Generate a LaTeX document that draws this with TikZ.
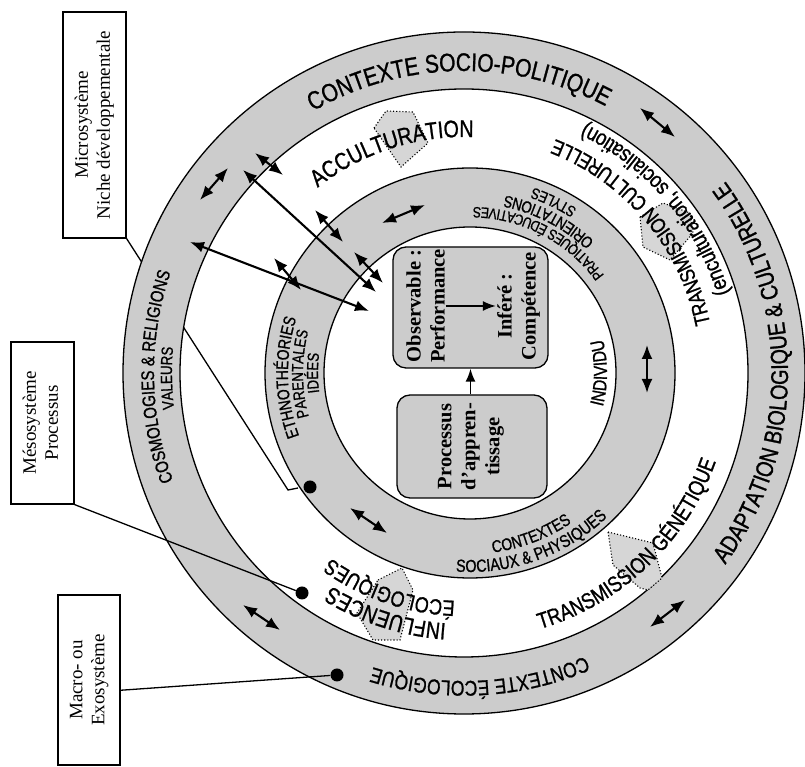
\documentclass[tikz,border=0pt]{standalone}
\usepackage{fontspec}
\setmainfont{Liberation Serif}
\newfontfamily\ringfont[FakeStretch=0.82,FakeBold=1]{Liberation Sans}
\usetikzlibrary{decorations.text,arrows.meta,calc}
\definecolor{ringgray}{gray}{0.80}
\definecolor{shapegray}{gray}{0.84}
\newcommand\ringtext[6]{%
  \pgfmathsetmacro\rtA{#3-(#4)*85}%
  \pgfmathsetmacro\rtB{#3+(#4)*85}%
  \path[decorate,decoration={text along path,text align=center,
     text={|\ringfont\fontsize{#5}{#5}\selectfont|#6}}]
     ($(#1)+(\rtA:#2)$) arc[start angle=\rtA,end angle=\rtB,radius=#2];}
\begin{document}
\begin{tikzpicture}[x=1pt,y=1pt,
  dbl/.style={{Latex[length=14pt,width=11pt]}-{Latex[length=14pt,width=11pt]},line width=2.1pt},
  sgl/.style={-{Latex[length=13pt,width=10pt]},line width=1.8pt},
  lbox/.style={draw,line width=1.2pt,fill=white,inner sep=0pt,font=\fontsize{19}{22}\selectfont},
  ibox/.style={draw,line width=1.3pt,fill=ringgray,rounded corners=13pt},
  btext/.style={rotate=90,align=center,font=\bfseries\fontsize{20.5}{24}\selectfont,inner sep=1pt},
  dot/.style={circle,fill=black,inner sep=0pt,minimum size=13pt},
  dshape/.style={draw,dotted,line width=1.1pt,fill=shapegray},
  edge/.style={line width=1.3pt}]
\useasboundingbox (0,0) rectangle (805,767);
\coordinate (C1) at (464,394);
\coordinate (C3) at (470,394);

% label boxes
\node[lbox,minimum width=63,minimum height=226] (micro) at (94.5,642)
  {\rotatebox{90}{\begin{tabular}{@{}c@{}}Microsystème\\Niche développementale\end{tabular}}};
\node[lbox,minimum width=63,minimum height=162] (meso) at (42.5,344)
  {\rotatebox{90}{\begin{tabular}{@{}c@{}}Mésosystème\\Processus\end{tabular}}};
\node[lbox,minimum width=62,minimum height=170] (macro) at (89,87)
  {\rotatebox{90}{\begin{tabular}{@{}c@{}}Macro- ou\\Exosystème\end{tabular}}};

% line from microsystem box, hidden under rings
\coordinate (mA1) at (288,277);
\coordinate (mA2) at (298,279);
\draw[edge] (micro.south east) -- (mA1) -- (mA2);

% rings
\fill[ringgray,even odd rule] (C1) circle[radius=341] (C1) circle[radius=284];
\draw[edge] (C1) circle[radius=341] (C1) circle[radius=284];
\fill[ringgray,even odd rule] (C3) circle[radius=205] (C3) circle[radius=146];
\draw[edge] (C3) circle[radius=205] (C3) circle[radius=146];

% dotted shapes
\draw[dshape] (374,639) -- (386,656) -- (413,655) -- (428,624) -- (401,600) -- cycle;
\draw[dshape] (640,550) -- (663,564) -- (690,554) -- (693,534) -- (670,507) -- (643,520) -- cycle;
\draw[dshape] (608,235) -- (653,224) -- (662,189) -- (648,177) -- (640,179) -- (613,202) -- cycle;
\draw[dshape] (378,187) -- (402,199) -- (413,177) -- (400,127) -- (373,127) -- (357,154) -- cycle;

% ring texts: center, baseline radius, center angle, direction (+1 ccw, -1 cw), size, text
\ringtext{C1}{302}{91}{-1}{25.5}{CONTEXTE SOCIO-POLITIQUE}
\ringtext{C1}{324}{0}{1}{24.2}{ADAPTATION BIOLOGIQUE {\&} CULTURELLE}
\ringtext{C1}{308}{-87}{-1}{21.3}{CONTEXTE ÉCOLOGIQUE}
\ringtext{C1}{310}{180.7}{-1}{18.3}{COSMOLOGIES {\&} RELIGIONS}
\ringtext{C1}{292}{181}{-1}{16.2}{VALEURS}
\ringtext{C1}{236}{108}{-1}{24}{ACCULTURATION}
\ringtext{C1}{251}{40}{1}{21.3}{TRANSMISSION CULTURELLE}
\ringtext{C1}{277}{40.4}{1}{22.5}{(enculturation, socialisation)}
\ringtext{C1}{267}{-46.4}{1}{22.3}{TRANSMISSION GÉNÉTIQUE}
\ringtext{C1}{251}{252}{-1}{23.5}{INFLUENCES}
\ringtext{C1}{228}{251}{-1}{22}{ÉCOLOGIQUES}
\ringtext{C3}{182}{181.4}{-1}{17}{ETHNOTHÉORIES}
\ringtext{C3}{167}{180.3}{-1}{16}{PARENTALES}
\ringtext{C3}{152}{180}{-1}{16}{IDÉES}
\ringtext{C3}{166}{62.5}{1}{15}{PRATIQUES ÉDUCATIVES}
\ringtext{C3}{181}{62.7}{1}{16.5}{ORIENTATIONS}
\ringtext{C3}{196}{64}{1}{15.5}{STYLES}
\ringtext{C3}{181}{-69.3}{1}{17}{CONTEXTES}
\ringtext{C3}{199}{-70.2}{1}{17.5}{SOCIAUX {\&} PHYSIQUES}
\ringtext{C3}{137}{0}{1}{19}{INDIVIDU}

% double arrows
\foreach \n/\ax/\ay/\bx/\by in {a/255/614/283/592, b/200/567/228/599, c/243/597/376/475,
  d/190/525/369/456, e/315/557/343/525, f/354/515/383/484, g/274/509/301/477,
  h/382/544/425/562, i/640/659/675/630, j/647/422/647/374, k/650/140/685/167,
  l/350/259/387/234, m/243/162/280/137}{
  \coordinate (\n1) at (\ax,\ay);
  \coordinate (\n2) at (\bx,\by);
  \draw[dbl] (\n1) -- (\n2);
}

% dots and pointer lines
\node[dot] (d1) at (310,280) {};
\node[dot] (d2) at (302,174) {};
\node[dot] (d3) at (337,92) {};
\draw[edge] (meso.south east) -- (d2);
\draw[edge] (macro.-18) -- (d3);

% inner boxes
\node[ibox,minimum width=155,minimum height=121] (obsbox) at (470.5,459.5) {};
\node[btext] (obs) at (425.5,461) {Observable :\\Performance};
\node[btext] (inf) at (518.5,461) {Inféré :\\Compétence};
\draw[sgl] (obs) -- (inf);
\node[ibox,minimum width=150,minimum height=103] (probox) at (472,320.5) {};
\node[btext] (pro) at (471,320.5) {Processus\\d’appren-\\tissage};
\draw[sgl] (obsbox.south |- probox.north) -- (obsbox.south);
\end{tikzpicture}
\end{document}
